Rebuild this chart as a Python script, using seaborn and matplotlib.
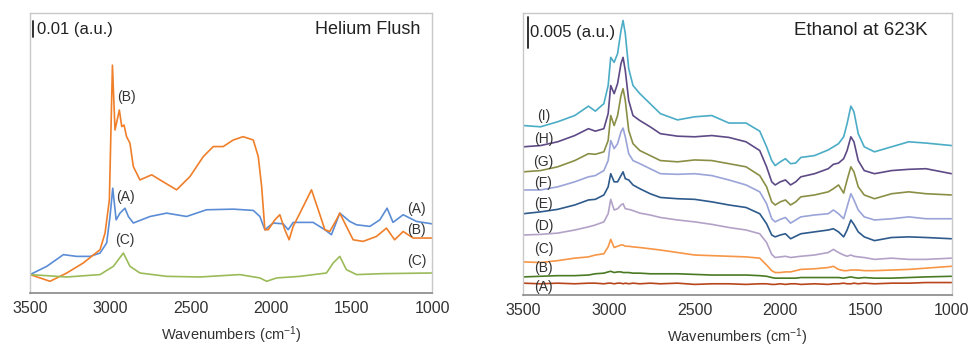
import pandas as pd
import seaborn as sns
import matplotlib
matplotlib.use('Agg')
import matplotlib.pyplot as plt

# ---- Helium Flush (absorbance, a.u.) ----
wn_a = [3500, 3396, 3293, 3210, 3127, 3065, 3024, 3003, 2986, 2965, 2941, 2910, 2889, 2858, 2754, 2651,
        2527, 2403, 2237, 2112, 2071, 2040, 1988, 1926, 1895, 1864, 1740, 1667, 1626, 1574, 1512, 1470,
        1387, 1325, 1280, 1243, 1180, 1097, 1000]
he_a = [0.0115, 0.0167, 0.0240, 0.0229, 0.0229, 0.0250, 0.0313, 0.0479, 0.0656, 0.0458, 0.0500, 0.0531,
        0.0479, 0.0438, 0.0479, 0.0500, 0.0479, 0.0521, 0.0525, 0.0517, 0.0479, 0.0396, 0.0438, 0.0433,
        0.0396, 0.0442, 0.0442, 0.0396, 0.0365, 0.0500, 0.0448, 0.0427, 0.0417, 0.0458, 0.0531, 0.0442,
        0.0490, 0.0448, 0.0433]

wn_b = [3500, 3376, 3272, 3169, 3065, 3034, 3007, 2988, 2972, 2945, 2930, 2916, 2900, 2879, 2858, 2817,
        2744, 2692, 2589, 2506, 2423, 2361, 2299, 2237, 2175, 2112, 2081, 2060, 2040, 2019, 1978, 1947,
        1916, 1889, 1864, 1822, 1750, 1708, 1667, 1636, 1595, 1574, 1533, 1491, 1429, 1346, 1284, 1233,
        1180, 1118, 1000]
he_b = [0.0115, 0.0073, 0.0125, 0.0188, 0.0271, 0.0375, 0.0583, 0.1427, 0.1021, 0.1146, 0.1042, 0.1052,
        0.0979, 0.0938, 0.0792, 0.0708, 0.0740, 0.0708, 0.0646, 0.0729, 0.0854, 0.0917, 0.0917, 0.0958,
        0.0979, 0.0958, 0.0854, 0.0667, 0.0396, 0.0396, 0.0458, 0.0490, 0.0396, 0.0333, 0.0417, 0.0500,
        0.0646, 0.0521, 0.0396, 0.0385, 0.0458, 0.0500, 0.0417, 0.0333, 0.0323, 0.0354, 0.0406, 0.0333,
        0.0385, 0.0344, 0.0344]

wn_c = [3500, 3272, 3065, 2982, 2920, 2879, 2817, 2651, 2444, 2196, 2071, 2029, 1967, 1822, 1657, 1615,
        1574, 1533, 1470, 1305, 1000]
he_c = [0.0115, 0.0100, 0.0115, 0.0167, 0.0250, 0.0167, 0.0125, 0.0104, 0.0100, 0.0115, 0.0094, 0.0073,
        0.0094, 0.0104, 0.0125, 0.0188, 0.0229, 0.0146, 0.0115, 0.0121, 0.0125]

# ---- Ethanol at 623K (absorbance x 1e-3, stacked) ----
wn_r = [3500, 3400, 3300, 3200, 3120, 3080, 3030, 3005, 2990, 2970, 2950, 2930, 2918, 2905, 2885, 2860,
        2820, 2760, 2700, 2600, 2500, 2400, 2300, 2200, 2120, 2080, 2050, 2030, 2000, 1970, 1940, 1910,
        1880, 1800, 1720, 1690, 1660, 1630, 1610, 1588, 1570, 1545, 1510, 1450, 1350, 1250, 1150, 1000]
eth_i = [27.1, 26.9, 27.7, 28.7, 30.2, 29.4, 30.6, 33.5, 38.0, 37.2, 38.6, 42.3, 43.9, 41.8, 36.2, 33.5,
         32.2, 30.6, 29.0, 28.0, 28.5, 28.7, 27.5, 27.5, 26.2, 23.7, 21.5, 20.7, 21.3, 21.8, 21.0, 21.1,
         22.0, 22.3, 23.2, 23.7, 24.2, 25.3, 27.4, 30.2, 29.3, 25.8, 23.7, 22.9, 23.7, 24.5, 24.3, 23.9]
eth_h = [23.7, 23.9, 24.5, 25.5, 26.6, 26.2, 26.6, 29.0, 33.5, 32.2, 33.8, 37.0, 38.0, 35.9, 31.1, 28.7,
         27.9, 26.9, 25.8, 25.4, 25.3, 25.5, 25.2, 24.5, 23.1, 20.5, 18.1, 17.6, 18.1, 18.4, 17.6, 18.1,
         18.9, 19.4, 20.2, 20.9, 21.1, 21.8, 23.1, 25.3, 24.5, 21.5, 19.9, 19.4, 19.9, 20.1, 20.2, 19.4]
eth_g = [19.7, 19.9, 20.5, 21.5, 22.6, 22.5, 22.9, 24.7, 28.7, 27.1, 28.7, 31.9, 33.0, 31.1, 26.3, 24.2,
         23.1, 22.3, 21.5, 21.3, 21.6, 21.5, 21.0, 20.5, 19.1, 17.3, 14.9, 14.4, 14.9, 15.2, 14.4, 14.9,
         15.7, 16.0, 16.5, 17.0, 17.6, 16.3, 18.4, 20.5, 19.7, 17.3, 16.0, 15.4, 16.2, 16.5, 16.2, 16.0]
eth_f = [16.8, 16.8, 17.3, 18.1, 18.9, 19.1, 19.9, 21.5, 24.7, 23.4, 24.2, 26.1, 26.7, 25.3, 22.6, 21.5,
         21.0, 20.2, 19.4, 19.3, 19.4, 19.1, 18.4, 17.6, 16.5, 14.6, 12.2, 11.7, 12.1, 12.4, 11.5, 12.0,
         12.5, 12.8, 13.0, 13.6, 13.0, 12.2, 14.1, 16.2, 15.2, 13.6, 12.5, 12.0, 12.2, 12.5, 12.2, 12.2]
eth_e = [13.0, 13.3, 13.7, 14.4, 15.2, 15.3, 16.0, 17.3, 19.4, 18.1, 18.1, 19.1, 19.7, 18.6, 18.4, 17.6,
         17.0, 16.2, 15.6, 15.4, 15.3, 14.9, 14.4, 14.0, 13.0, 11.4, 9.6, 9.3, 9.6, 9.8, 9.0, 9.4,
         9.8, 10.1, 10.4, 10.6, 10.1, 9.3, 10.4, 12.0, 11.3, 10.1, 9.3, 8.7, 9.2, 9.3, 9.2, 9.0]
eth_d = [9.6, 9.7, 9.9, 10.4, 10.9, 11.2, 11.7, 13.0, 15.3, 13.6, 13.8, 14.4, 14.6, 13.8, 13.7, 13.5,
         13.1, 12.8, 12.4, 12.0, 11.7, 11.3, 10.8, 10.4, 9.8, 8.4, 6.5, 6.0, 6.1, 6.2, 6.0, 6.1,
         6.2, 6.4, 6.8, 7.3, 6.8, 6.4, 6.2, 6.4, 6.2, 6.1, 6.0, 5.7, 5.9, 5.7, 5.7, 5.9]
eth_c = [5.3, 5.2, 5.5, 5.9, 6.1, 6.4, 6.6, 7.7, 8.9, 7.6, 7.8, 8.0, 8.0, 7.8, 7.8, 7.7,
         7.6, 7.4, 7.2, 6.8, 6.4, 6.3, 6.2, 6.1, 5.9, 4.8, 3.9, 3.6, 3.6, 3.7, 3.7, 3.9,
         4.1, 4.2, 4.4, 4.6, 4.1, 3.9, 3.9, 4.0, 4.0, 4.0, 3.9, 3.9, 4.0, 4.1, 4.3, 4.6]
eth_b = [2.9, 3.0, 3.1, 3.1, 3.2, 3.4, 3.5, 3.7, 3.8, 3.6, 3.7, 3.7, 3.6, 3.6, 3.6, 3.5,
         3.5, 3.4, 3.4, 3.4, 3.3, 3.2, 3.2, 3.2, 3.1, 3.0, 2.8, 2.7, 2.7, 2.7, 2.7, 2.7,
         2.8, 2.8, 2.8, 2.8, 2.8, 2.7, 2.8, 2.9, 2.8, 2.7, 2.8, 2.7, 2.7, 2.8, 2.9, 3.0]
eth_a = [1.9, 1.8, 1.9, 1.8, 1.9, 1.9, 1.8, 1.9, 1.9, 1.8, 1.9, 1.9, 1.8, 1.9, 1.8, 1.9,
         1.8, 1.9, 1.8, 1.9, 1.7, 1.8, 1.8, 1.7, 1.8, 1.8, 1.7, 1.7, 1.8, 1.7, 1.8, 1.8,
         1.7, 1.8, 1.7, 1.8, 1.8, 1.9, 1.8, 1.8, 1.9, 1.8, 1.9, 1.8, 1.9, 1.9, 2.0, 2.0]

left_colors = {'A': '#5b8dd6', 'B': '#f07f2a', 'C': '#9bbb59'}
right_colors = {'A': '#b8461c', 'B': '#4a7a24', 'C': '#f79646', 'D': '#b3a2c8', 'E': '#2e5a8c',
                'F': '#9aa4d8', 'G': '#8a8f45', 'H': '#5d4a86', 'I': '#4bacc6'}

df_left = pd.concat([
    pd.DataFrame({'wn': wn_a, 'abs': he_a, 'trace': 'A'}),
    pd.DataFrame({'wn': wn_b, 'abs': he_b, 'trace': 'B'}),
    pd.DataFrame({'wn': wn_c, 'abs': he_c, 'trace': 'C'}),
])
right_series = {'A': eth_a, 'B': eth_b, 'C': eth_c, 'D': eth_d, 'E': eth_e,
                'F': eth_f, 'G': eth_g, 'H': eth_h, 'I': eth_i}
df_right = pd.concat([pd.DataFrame({'wn': wn_r, 'abs': v, 'trace': k}) for k, v in right_series.items()])

sns.set_style('white')
plt.rcParams['font.family'] = ['Liberation Sans', 'DejaVu Sans']
plt.rcParams['mathtext.default'] = 'regular'

fig = plt.figure(figsize=(9.71, 3.5), dpi=100)
ax1 = fig.add_axes([0.031, 0.163, 0.414, 0.80])
ax2 = fig.add_axes([0.539, 0.157, 0.441, 0.806])

sns.lineplot(data=df_left, x='wn', y='abs', hue='trace', palette=left_colors, estimator=None,
             sort=False, legend=False, ax=ax1, linewidth=1.2)
sns.lineplot(data=df_right, x='wn', y='abs', hue='trace', palette=right_colors, estimator=None,
             sort=False, legend=False, ax=ax2, linewidth=1.2)

for ax in (ax1, ax2):
    ax.set_xlim(3500, 1000)
    ax.set_xticks([3500, 3000, 2500, 2000, 1500, 1000])
    ax.set_yticks([])
    ax.set_ylabel('')
    ax.set_xlabel('Wavenumbers (cm$^{-1}$)', fontsize=10.5, color='#333333', labelpad=6)
    for s in ('left', 'top', 'right'):
        ax.spines[s].set_color('#c8c8c8')
        ax.spines[s].set_linewidth(1.0)
    ax.spines['bottom'].set_color('#888888')
    ax.spines['bottom'].set_linewidth(1.2)
    ax.tick_params(axis='x', direction='inout', length=8, width=1, color='#888888',
                   labelsize=11.5, labelcolor='#333333', pad=2)

ax1.set_ylim(0, 0.1754)
ax2.set_ylim(0, 45.1)

# left annotations
ax1.plot([3485, 3485], [0.1604, 0.1704], color='#222222', lw=1.3)
ax1.text(3454, 0.1650, '0.01 (a.u.)', fontsize=12, va='center', ha='left', color='#222222')
ax1.text(1073, 0.1650, 'Helium Flush', fontsize=13, va='center', ha='right', color='#222222')
for lab, x, y in [('(B)', 2903, 0.1229), ('(A)', 2910, 0.0598), ('(C)', 2910, 0.0329),
                  ('(A)', 1097, 0.0525), ('(B)', 1097, 0.0396), ('(C)', 1097, 0.0198)]:
    ax1.text(x, y, lab, fontsize=10, ha='center', va='center', color='#333333')

# right annotations
ax2.plot([3475, 3475], [39.5, 44.5], color='#222222', lw=1.3)
ax2.text(3461, 42.0, '0.005 (a.u.)', fontsize=12, va='center', ha='left', color='#222222')
ax2.text(1530, 42.3, 'Ethanol at 623K', fontsize=13.5, va='center', ha='center', color='#222222')
for lab, y in [('(I)', 28.7), ('(H)', 25.0), ('(G)', 21.2), ('(F)', 17.9), ('(E)', 14.5),
               ('(D)', 11.0), ('(C)', 7.4), ('(B)', 4.4), ('(A)', 1.3)]:
    ax2.text(3383, y, lab, fontsize=10, ha='center', va='center', color='#333333')

fig.savefig('out.png', dpi=100)
